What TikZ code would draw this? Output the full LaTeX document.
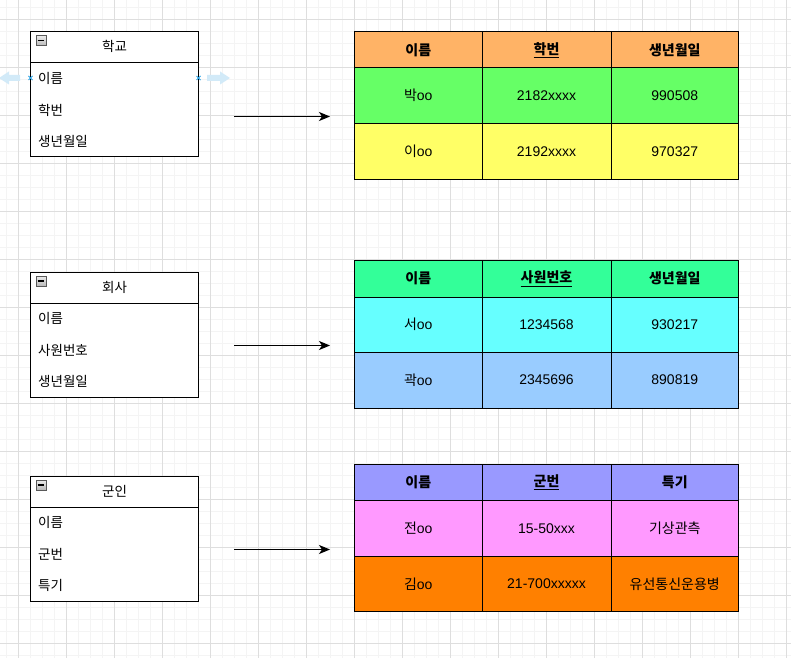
\documentclass[tikz,border=0pt]{standalone}
\usepackage{fontspec}
\setmainfont{Liberation Sans}
\newfontfamily\kr{Noto Sans CJK KR}
\usetikzlibrary{arrows.meta}
\definecolor{gridminor}{HTML}{F4F4F4}
\definecolor{gridmajor}{HTML}{DEDEDE}
\definecolor{hdrA}{HTML}{FFB366}
\definecolor{rowAa}{HTML}{66FF66}
\definecolor{rowAb}{HTML}{FFFF66}
\definecolor{hdrB}{HTML}{33FF99}
\definecolor{rowBa}{HTML}{66FFFF}
\definecolor{rowBb}{HTML}{99CCFF}
\definecolor{hdrC}{HTML}{9999FF}
\definecolor{rowCa}{HTML}{FF99FF}
\definecolor{rowCb}{HTML}{FF8000}
\definecolor{hoverblue}{HTML}{D2EAF8}
\definecolor{handleblue}{HTML}{29A3E6}
\newcommand{\tcell}[7]{%
  \node[cellbox, fill=#6, minimum width={(#4-#2)*1pt}, minimum height={(#5-#3)*1pt}]
    (#1) at ({(#2+#4)/2},{(#3+#5)/2}) {#7};}
\begin{document}
\begin{tikzpicture}[x=1pt,y=-1pt,
  minorline/.style={draw=gridminor, line width=1pt},
  majorline/.style={draw=gridmajor, line width=1pt},
  cellbox/.style={draw=black, line width=1pt, inner sep=0pt, font=\fontsize{14}{16}\selectfont},
  entbox/.style={draw=black, line width=1pt, inner sep=0pt, fill=white, minimum width=168pt},
  rowtext/.style={anchor=west, inner sep=0pt, font=\kr\fontsize{13.5}{16}\selectfont},
  hdrtext/.style={inner sep=0pt, font=\kr\fontsize{13.5}{16}\selectfont},
  minusbox/.style={draw=gray!70!black, line width=0.6pt, top color=gray!15, bottom color=gray!55, minimum width=10pt, minimum height=10pt, inner sep=0pt},
  linkarrow/.style={draw=black, line width=1pt, -{Stealth[length=11pt,width=9pt,inset=3pt]}},
  hover/.style={fill=hoverblue, draw=none},
  handle/.style={draw=handleblue, line width=1pt}
]
\useasboundingbox (0,0) rectangle (791,658);
\fill[white] (0,0) rectangle (791,658);
% grid
\foreach \i in {0,...,66} {\draw[minorline] ({6.3+12*\i},0) -- ({6.3+12*\i},658);}
\foreach \i in {0,...,55} {\draw[minorline] (0,{7.3+12*\i}) -- (791,{7.3+12*\i});}
\foreach \i in {0,...,16} {\draw[majorline] ({18.3+48*\i},0) -- ({18.3+48*\i},658);}
\foreach \i in {0,...,13} {\draw[majorline] (0,{19.3+48*\i}) -- (791,{19.3+48*\i});}

% ---------- entity 1 ----------
\node[entbox, minimum height=31pt] (e1h) at (114.5,47.5) {};
\node[entbox, minimum height=93.5pt] (e1b) at (114.5,109.75) {};
\node[hdrtext] (e1t) at (114.5,46.5) {학교};
\node[minusbox] (e1m) at (41,40.5) {};
\draw[line width=1.3pt] ([xshift=2pt]e1m.west) -- ([xshift=-2pt]e1m.east);
\node[rowtext] (e1r1) at (38,78) {이름};
\node[rowtext] (e1r2) at (38,110) {학번};
\node[rowtext] (e1r3) at (38,141) {생년월일};
% hover handles
\fill[hover] (-1,78) -- (9,71.5) -- (9,75) -- (20,75) -- (20,81) -- (9,81) -- (9,84.5) -- cycle;
\fill[hover] (230,78) -- (220,71.5) -- (220,75) -- (207,75) -- (207,81) -- (220,81) -- (220,84.5) -- cycle;
\coordinate (h1) at (30.5,78);
\coordinate (h2) at (198.5,78);
\draw[handle] ([shift={(-2,-2)}]h1) -- ([shift={(2,2)}]h1) ([shift={(-2,2)}]h1) -- ([shift={(2,-2)}]h1);
\draw[handle] ([shift={(-2,-2)}]h2) -- ([shift={(2,2)}]h2) ([shift={(-2,2)}]h2) -- ([shift={(2,-2)}]h2);

% ---------- entity 2 ----------
\node[entbox, minimum height=31pt] (e2h) at (114.5,288) {};
\node[entbox, minimum height=93.5pt] (e2b) at (114.5,350.25) {};
\node[hdrtext] (e2t) at (114.5,287) {회사};
\node[minusbox] (e2m) at (41,281) {};
\draw[line width=1.3pt] ([xshift=2pt]e2m.west) -- ([xshift=-2pt]e2m.east);
\node[rowtext] (e2r1) at (38,318.5) {이름};
\node[rowtext] (e2r2) at (38,350) {사원번호};
\node[rowtext] (e2r3) at (38,381) {생년월일};

% ---------- entity 3 ----------
\node[entbox, minimum height=31pt] (e3h) at (114.5,492) {};
\node[entbox, minimum height=93.5pt] (e3b) at (114.5,554.25) {};
\node[hdrtext] (e3t) at (114.5,491) {군인};
\node[minusbox] (e3m) at (41,485) {};
\draw[line width=1.3pt] ([xshift=2pt]e3m.west) -- ([xshift=-2pt]e3m.east);
\node[rowtext] (e3r1) at (38,522) {이름};
\node[rowtext] (e3r2) at (38,554) {군번};
\node[rowtext] (e3r3) at (38,585) {특기};

% ---------- arrows ----------
\coordinate (a1s) at (234,116.5); \coordinate (a1e) at (330,116.5);
\coordinate (a2s) at (234,345.5); \coordinate (a2e) at (330,345.5);
\coordinate (a3s) at (234,549.5); \coordinate (a3e) at (330,549.5);
\draw[linkarrow] (a1s) -- (a1e);
\draw[linkarrow] (a2s) -- (a2e);
\draw[linkarrow] (a3s) -- (a3e);

% ---------- table 1 ----------
\tcell{t1h1}{354.5}{32}{482}{68}{hdrA}{\kr\bfseries 이름}
\tcell{t1h2}{482}{32}{611}{68}{hdrA}{\kr\bfseries\underline{학번}}
\tcell{t1h3}{611}{32}{738.5}{68}{hdrA}{\kr\bfseries 생년월일}
\tcell{t1a1}{354.5}{68}{482}{123.5}{rowAa}{{\kr 박}oo}
\tcell{t1a2}{482}{68}{611}{123.5}{rowAa}{2182xxxx}
\tcell{t1a3}{611}{68}{738.5}{123.5}{rowAa}{990508}
\tcell{t1b1}{354.5}{123.5}{482}{179.5}{rowAb}{{\kr 이}oo}
\tcell{t1b2}{482}{123.5}{611}{179.5}{rowAb}{2192xxxx}
\tcell{t1b3}{611}{123.5}{738.5}{179.5}{rowAb}{970327}

% ---------- table 2 ----------
\tcell{t2h1}{354.5}{260.5}{482}{297}{hdrB}{\kr\bfseries 이름}
\tcell{t2h2}{482}{260.5}{611}{297}{hdrB}{\kr\bfseries\underline{사원번호}}
\tcell{t2h3}{611}{260.5}{738.5}{297}{hdrB}{\kr\bfseries 생년월일}
\tcell{t2a1}{354.5}{297}{482}{352}{rowBa}{{\kr 서}oo}
\tcell{t2a2}{482}{297}{611}{352}{rowBa}{1234568}
\tcell{t2a3}{611}{297}{738.5}{352}{rowBa}{930217}
\tcell{t2b1}{354.5}{352}{482}{408}{rowBb}{{\kr 곽}oo}
\tcell{t2b2}{482}{352}{611}{408}{rowBb}{2345696}
\tcell{t2b3}{611}{352}{738.5}{408}{rowBb}{890819}

% ---------- table 3 ----------
\tcell{t3h1}{354.5}{464.5}{482}{500.5}{hdrC}{\kr\bfseries 이름}
\tcell{t3h2}{482}{464.5}{611}{500.5}{hdrC}{\kr\bfseries\underline{군번}}
\tcell{t3h3}{611}{464.5}{738.5}{500.5}{hdrC}{\kr\bfseries 특기}
\tcell{t3a1}{354.5}{500.5}{482}{556}{rowCa}{{\kr 전}oo}
\tcell{t3a2}{482}{500.5}{611}{556}{rowCa}{15-50xxx}
\tcell{t3a3}{611}{500.5}{738.5}{556}{rowCa}{{\kr 기상관측}}
\tcell{t3b1}{354.5}{556}{482}{611.5}{rowCb}{{\kr 김}oo}
\tcell{t3b2}{482}{556}{611}{611.5}{rowCb}{21-700xxxxx}
\tcell{t3b3}{611}{556}{738.5}{611.5}{rowCb}{{\kr 유선통신운용병}}
\end{tikzpicture}
\end{document}
